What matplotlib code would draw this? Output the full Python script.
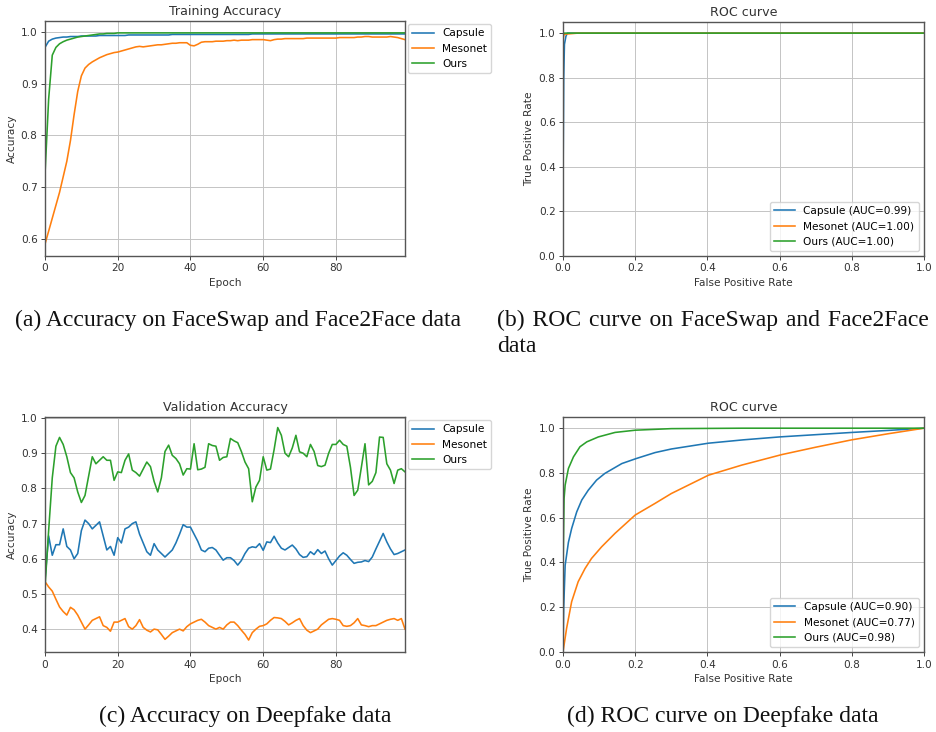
import matplotlib
matplotlib.use("Agg")
import matplotlib.pyplot as plt
import numpy as np

# ---------------- data ----------------
epochs = list(range(100))

train_capsule = [0.970, 0.982, 0.986, 0.988, 0.989, 0.990, 0.990, 0.991, 0.991, 0.991,
                 0.992, 0.992, 0.992, 0.992, 0.992, 0.993, 0.993, 0.993, 0.993, 0.993,
                 0.993, 0.993, 0.993, 0.994, 0.994, 0.994, 0.994, 0.994, 0.994, 0.994,
                 0.994, 0.994, 0.994, 0.994, 0.994, 0.995, 0.995, 0.995, 0.995, 0.995,
                 0.995, 0.995, 0.995, 0.995, 0.995, 0.995, 0.995, 0.995, 0.995, 0.995,
                 0.995, 0.995, 0.995, 0.995, 0.995, 0.995, 0.995, 0.996, 0.996, 0.996,
                 0.996, 0.996, 0.996, 0.996, 0.996, 0.996, 0.996, 0.996, 0.996, 0.996,
                 0.996, 0.996, 0.996, 0.996, 0.996, 0.996, 0.996, 0.996, 0.996, 0.996,
                 0.996, 0.996, 0.996, 0.996, 0.996, 0.996, 0.996, 0.996, 0.996, 0.996,
                 0.996, 0.996, 0.996, 0.996, 0.996, 0.996, 0.996, 0.996, 0.996, 0.996]
train_mesonet = [0.590, 0.615, 0.640, 0.665, 0.690, 0.720, 0.750, 0.790, 0.840, 0.885,
                 0.915, 0.930, 0.937, 0.942, 0.946, 0.950, 0.953, 0.956, 0.958, 0.960,
                 0.961, 0.963, 0.965, 0.967, 0.969, 0.971, 0.972, 0.971, 0.972, 0.973,
                 0.974, 0.975, 0.975, 0.976, 0.977, 0.978, 0.978, 0.979, 0.979, 0.979,
                 0.974, 0.973, 0.976, 0.980, 0.981, 0.981, 0.981, 0.982, 0.982, 0.982,
                 0.983, 0.983, 0.984, 0.983, 0.984, 0.984, 0.984, 0.985, 0.985, 0.985,
                 0.985, 0.984, 0.983, 0.985, 0.986, 0.986, 0.987, 0.987, 0.987, 0.987,
                 0.987, 0.987, 0.988, 0.988, 0.988, 0.988, 0.988, 0.988, 0.988, 0.988,
                 0.988, 0.989, 0.989, 0.989, 0.989, 0.989, 0.990, 0.990, 0.991, 0.991,
                 0.990, 0.990, 0.990, 0.990, 0.990, 0.991, 0.990, 0.989, 0.987, 0.985]
train_ours = [0.725, 0.870, 0.955, 0.970, 0.977, 0.981, 0.984, 0.986, 0.988, 0.990,
              0.991, 0.992, 0.993, 0.994, 0.995, 0.996, 0.996, 0.997, 0.997, 0.997,
              0.998, 0.998, 0.998, 0.998, 0.998, 0.998, 0.998, 0.998, 0.998, 0.998,
              0.998, 0.998, 0.998, 0.998, 0.998, 0.998, 0.998, 0.998, 0.998, 0.998,
              0.998, 0.998, 0.998, 0.998, 0.998, 0.998, 0.998, 0.998, 0.998, 0.998,
              0.998, 0.998, 0.998, 0.998, 0.998, 0.998, 0.998, 0.998, 0.998, 0.998,
              0.998, 0.998, 0.998, 0.998, 0.998, 0.998, 0.998, 0.998, 0.998, 0.998,
              0.998, 0.998, 0.998, 0.998, 0.998, 0.998, 0.998, 0.998, 0.998, 0.998,
              0.998, 0.998, 0.998, 0.998, 0.998, 0.998, 0.998, 0.998, 0.998, 0.998,
              0.998, 0.998, 0.998, 0.998, 0.998, 0.998, 0.998, 0.998, 0.998, 0.998]

val_capsule = [0.540, 0.665, 0.610, 0.640, 0.640, 0.685, 0.635, 0.625, 0.600, 0.615,
               0.680, 0.710, 0.700, 0.685, 0.695, 0.705, 0.665, 0.625, 0.635, 0.610,
               0.660, 0.645, 0.685, 0.690, 0.700, 0.705, 0.670, 0.645, 0.620, 0.610,
               0.643, 0.625, 0.615, 0.605, 0.615, 0.625, 0.645, 0.670, 0.697, 0.690,
               0.690, 0.670, 0.650, 0.625, 0.620, 0.630, 0.632, 0.625, 0.610, 0.596,
               0.603, 0.603, 0.595, 0.582, 0.595, 0.615, 0.630, 0.634, 0.632, 0.643,
               0.624, 0.648, 0.646, 0.664, 0.645, 0.630, 0.625, 0.632, 0.639, 0.628,
               0.612, 0.604, 0.606, 0.620, 0.612, 0.626, 0.615, 0.622, 0.600, 0.582,
               0.595, 0.608, 0.617, 0.610, 0.598, 0.587, 0.590, 0.591, 0.595, 0.592,
               0.605, 0.628, 0.650, 0.672, 0.648, 0.628, 0.612, 0.615, 0.620, 0.625]
val_mesonet = [0.535, 0.520, 0.508, 0.485, 0.463, 0.450, 0.440, 0.462, 0.455, 0.440,
               0.420, 0.400, 0.412, 0.425, 0.430, 0.435, 0.410, 0.405, 0.394, 0.420,
               0.420, 0.425, 0.430, 0.407, 0.400, 0.410, 0.427, 0.405, 0.397, 0.392,
               0.400, 0.398, 0.385, 0.371, 0.380, 0.390, 0.395, 0.400, 0.395, 0.407,
               0.415, 0.420, 0.425, 0.428, 0.420, 0.410, 0.405, 0.400, 0.405, 0.400,
               0.412, 0.420, 0.420, 0.410, 0.397, 0.385, 0.369, 0.390, 0.400, 0.408,
               0.410, 0.415, 0.425, 0.433, 0.432, 0.430, 0.422, 0.412, 0.418, 0.425,
               0.430, 0.410, 0.397, 0.390, 0.395, 0.400, 0.412, 0.420, 0.428, 0.430,
               0.428, 0.425, 0.410, 0.408, 0.410, 0.418, 0.430, 0.412, 0.410, 0.407,
               0.410, 0.410, 0.415, 0.420, 0.425, 0.428, 0.430, 0.425, 0.430, 0.400]
val_ours = [0.520, 0.680, 0.830, 0.920, 0.945, 0.925, 0.890, 0.845, 0.830, 0.790,
            0.760, 0.780, 0.835, 0.890, 0.870, 0.880, 0.890, 0.880, 0.880, 0.823,
            0.847, 0.845, 0.880, 0.898, 0.852, 0.845, 0.835, 0.855, 0.875, 0.862,
            0.820, 0.790, 0.830, 0.905, 0.923, 0.894, 0.885, 0.870, 0.838, 0.856,
            0.855, 0.927, 0.853, 0.855, 0.860, 0.927, 0.922, 0.920, 0.880, 0.888,
            0.890, 0.942, 0.935, 0.930, 0.905, 0.875, 0.856, 0.762, 0.804, 0.823,
            0.890, 0.852, 0.855, 0.910, 0.973, 0.951, 0.900, 0.890, 0.915, 0.951,
            0.904, 0.900, 0.890, 0.925, 0.905, 0.865, 0.862, 0.866, 0.900, 0.925,
            0.925, 0.937, 0.925, 0.920, 0.860, 0.780, 0.795, 0.860, 0.927, 0.810,
            0.820, 0.845, 0.946, 0.945, 0.870, 0.852, 0.814, 0.852, 0.856, 0.847]

# ROC on FaceSwap / Face2Face
roc1_capsule_fpr = [0.0, 0.0, 0.002, 0.004, 0.008, 0.012, 1.0]
roc1_capsule_tpr = [0.0, 0.30, 0.80, 0.95, 0.985, 1.0, 1.0]
roc1_mesonet_fpr = [0.0, 0.0, 0.003, 0.04, 1.0]
roc1_mesonet_tpr = [0.0, 0.97, 0.995, 1.0, 1.0]
roc1_ours_fpr = [0.0, 0.0, 0.002, 1.0]
roc1_ours_tpr = [0.0, 0.99, 1.0, 1.0]

# ROC on Deepfake
roc2_capsule_fpr = [0.0, 0.002, 0.006, 0.015, 0.024, 0.038, 0.052, 0.07, 0.093, 0.116, 0.163,
                    0.204, 0.255, 0.30, 0.403, 0.5, 0.6, 0.7, 0.8, 0.9, 1.0]
roc2_capsule_tpr = [0.0, 0.20, 0.388, 0.49, 0.552, 0.626, 0.679, 0.723, 0.768, 0.798, 0.842,
                    0.865, 0.891, 0.907, 0.933, 0.948, 0.961, 0.971, 0.981, 0.99, 1.0]
roc2_mesonet_fpr = [0.0, 0.01, 0.024, 0.042, 0.061, 0.079, 0.107, 0.144, 0.2, 0.255, 0.30,
                    0.403, 0.495, 0.606, 0.7, 0.8, 0.9, 1.0]
roc2_mesonet_tpr = [0.0, 0.106, 0.225, 0.314, 0.373, 0.418, 0.47, 0.53, 0.612, 0.664, 0.708,
                    0.79, 0.835, 0.882, 0.915, 0.948, 0.975, 1.0]
roc2_ours_fpr = [0.0, 0.0, 0.003, 0.006, 0.015, 0.029, 0.047, 0.066, 0.098, 0.144, 0.2,
                 0.3, 0.5, 1.0]
roc2_ours_tpr = [0.0, 0.35, 0.686, 0.746, 0.82, 0.872, 0.917, 0.939, 0.961, 0.981, 0.991,
                 0.998, 1.0, 1.0]

model_names = ["Capsule", "Mesonet", "Ours"]
auc1 = ["0.99", "1.00", "1.00"]
auc2 = ["0.90", "0.77", "0.98"]
captions = ["(a) Accuracy on FaceSwap and Face2Face data",
            "(b) ROC curve on FaceSwap and Face2Face data",
            "(c) Accuracy on Deepfake data",
            "(d) ROC curve on Deepfake data"]

# ---------------- style ----------------
plt.rcParams.update({
    "font.family": ["DejaVu Sans"],
    "font.size": 7.6,
    "axes.titlesize": 9.1,
    "axes.labelsize": 7.6,
    "xtick.labelsize": 7.6,
    "ytick.labelsize": 7.6,
    "legend.fontsize": 7.6,
    "lines.linewidth": 1.15,
    "axes.linewidth": 1.0,
    "axes.edgecolor": "#555555",
    "xtick.color": "#444444",
    "ytick.color": "#444444",
    "xtick.labelcolor": "#333333",
    "ytick.labelcolor": "#333333",
    "axes.labelcolor": "#333333",
    "axes.titlecolor": "#333333",
    "xtick.major.size": 2.7,
    "ytick.major.size": 2.7,
    "xtick.major.width": 0.7,
    "ytick.major.width": 0.7,
    "xtick.major.pad": 2.7,
    "ytick.major.pad": 2.7,
    "axes.labelpad": 3.0,
    "axes.titlepad": 4.5,
    "grid.color": "#c4c4c4",
    "grid.linewidth": 0.7,
})

W, H = 936, 732
fig = plt.figure(figsize=(W / 100, H / 100), dpi=100)


def px_axes(left, top, right, bottom):
    return fig.add_axes([left / W, 1 - bottom / H, (right - left) / W, (bottom - top) / H])


colors = ["#1f77b4", "#ff7f0e", "#2ca02c"]

# (a) training accuracy
ax_a = px_axes(45, 21, 405, 256)
for vals, name, c in zip([train_capsule, train_mesonet, train_ours], model_names, colors):
    ax_a.plot(epochs, vals, color=c, label=name)
ax_a.set_xlim(0, 99)
ax_a.set_ylim(0.567, 1.021)
ax_a.set_xticks([0, 20, 40, 60, 80])
ax_a.set_yticks([0.6, 0.7, 0.8, 0.9, 1.0])
ax_a.set_title("Training Accuracy")
ax_a.set_xlabel("Epoch")
ax_a.set_ylabel("Accuracy")
ax_a.grid(True)
ax_a.legend(loc="upper left", bbox_to_anchor=(1.0, 1.0), borderaxespad=0.3)

# (b) ROC 1
ax_b = px_axes(563, 22, 924, 256)
for f, t, name, auc, c in zip([roc1_capsule_fpr, roc1_mesonet_fpr, roc1_ours_fpr],
                              [roc1_capsule_tpr, roc1_mesonet_tpr, roc1_ours_tpr],
                              model_names, auc1, colors):
    ax_b.plot(f, t, color=c, label=f"{name} (AUC={auc})")
ax_b.set_xlim(0, 1)
ax_b.set_ylim(0, 1.05)
ax_b.set_title("ROC curve")
ax_b.set_xlabel("False Positive Rate")
ax_b.set_ylabel("True Positive Rate")
ax_b.grid(True)
ax_b.legend(loc="lower right")

# (c) validation accuracy
ax_c = px_axes(45, 417, 405, 652)
for vals, name, c in zip([val_capsule, val_mesonet, val_ours], model_names, colors):
    ax_c.plot(epochs, vals, color=c, label=name)
ax_c.set_xlim(0, 99)
ax_c.set_ylim(0.335, 1.003)
ax_c.set_xticks([0, 20, 40, 60, 80])
ax_c.set_yticks([0.4, 0.5, 0.6, 0.7, 0.8, 0.9, 1.0])
ax_c.set_title("Validation Accuracy")
ax_c.set_xlabel("Epoch")
ax_c.set_ylabel("Accuracy")
ax_c.grid(True)
ax_c.legend(loc="upper left", bbox_to_anchor=(1.0, 1.0), borderaxespad=0.3)

# (d) ROC 2
ax_d = px_axes(563, 417, 924, 652)
for f, t, name, auc, c in zip([roc2_capsule_fpr, roc2_mesonet_fpr, roc2_ours_fpr],
                              [roc2_capsule_tpr, roc2_mesonet_tpr, roc2_ours_tpr],
                              model_names, auc2, colors):
    ax_d.plot(f, t, color=c, label=f"{name} (AUC={auc})")
ax_d.set_xlim(0, 1)
ax_d.set_ylim(0, 1.05)
ax_d.set_title("ROC curve")
ax_d.set_xlabel("False Positive Rate")
ax_d.set_ylabel("True Positive Rate")
ax_d.grid(True)
ax_d.legend(loc="lower right")

# captions
cap_font = dict(family=["Liberation Serif", "DejaVu Serif"], size=17, color="#111111")
fig.text(15 / W, 1 - 320 / H, captions[0], ha="left", va="center", **cap_font)
# caption (b): wrapped, first line slightly justified like a LaTeX subcaption
b_words = captions[1].split(" ")
b_line1 = " \u200a".join(b_words[:-1])
b_line2 = b_words[-1]
fig.text(497 / W, 1 - 320 / H, b_line1, ha="left", va="center", **cap_font)
fig.text(497 / W, 1 - 346 / H, b_line2, ha="left", va="center", **cap_font)
fig.text(245 / W, 1 - 716 / H, captions[2], ha="center", va="center", **cap_font)
fig.text(723 / W, 1 - 716 / H, captions[3], ha="center", va="center", **cap_font)

fig.savefig("out.png", dpi=100, facecolor="white")
